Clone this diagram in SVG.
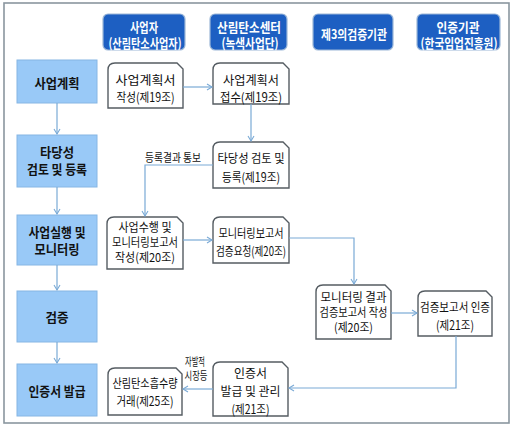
<svg xmlns="http://www.w3.org/2000/svg" width="513" height="428" viewBox="0 0 513 428">
<defs>
<marker id="arr" markerWidth="8" markerHeight="8" refX="6" refY="4" orient="auto" markerUnits="userSpaceOnUse">
<path d="M1,1 L6,4 L1,7" fill="none" stroke="#7aaad6" stroke-width="1.1"/>
</marker>
</defs>
<style>
text{font-family:"Noto Sans CJK KR","Noto Sans",sans-serif;dominant-baseline:central;text-anchor:middle;}
.hd rect{fill:#1d5fc2;stroke:#9db8d8;stroke-width:1.2;}
.hd text{fill:#ffffff;font-weight:bold;font-size:13px;}
.st rect{fill:#99c9f7;stroke:#86b6e4;stroke-width:1;}
.st text{fill:#111;font-weight:bold;font-size:13px;}
.pr path{fill:#ffffff;stroke:#555c62;stroke-width:1.4;}
.pr text{fill:#111;font-size:12.5px;}
.pr text.s{font-size:12px;}
.lb{fill:#111;font-size:11.5px;}
.cn path,.cn line{fill:none;stroke:#7aaad6;stroke-width:1.2;}
</style>
<rect x="4" y="3" width="505" height="420" fill="#ffffff" stroke="#8a969f" stroke-width="1.6"/>

<g id="header1" class="hd"><rect x="103" y="14" width="82" height="36" rx="5"/>
<text x="144" y="26" textLength="28" lengthAdjust="spacingAndGlyphs">사업자</text>
<text x="145" y="42" textLength="73" lengthAdjust="spacingAndGlyphs">(산림탄소사업자)</text></g>
<g id="header2" class="hd"><rect x="210" y="14" width="77" height="36" rx="5"/>
<text x="249" y="26" textLength="64" lengthAdjust="spacingAndGlyphs">산림탄소센터</text>
<text x="250" y="42" textLength="57" lengthAdjust="spacingAndGlyphs">(녹색사업단)</text></g>
<g id="header3" class="hd"><rect x="313" y="14" width="80" height="36" rx="5"/>
<text x="354" y="33" textLength="66" lengthAdjust="spacingAndGlyphs">제3의검증기관</text></g>
<g id="header4" class="hd"><rect x="417" y="14" width="83" height="36" rx="5"/>
<text x="458" y="26" textLength="43" lengthAdjust="spacingAndGlyphs">인증기관</text>
<text x="459" y="42" textLength="77" lengthAdjust="spacingAndGlyphs">(한국임업진흥원)</text></g>

<g id="stage1" class="st"><rect x="17" y="60" width="80" height="43"/>
<text x="57" y="82" textLength="45" lengthAdjust="spacingAndGlyphs">사업계획</text></g>
<g id="stage2" class="st"><rect x="17" y="135" width="80" height="52"/>
<text x="57" y="151" textLength="34" lengthAdjust="spacingAndGlyphs">타당성</text>
<text x="57" y="168" textLength="60" lengthAdjust="spacingAndGlyphs">검토 및 등록</text></g>
<g id="stage3" class="st"><rect x="17" y="215" width="80" height="50"/>
<text x="57" y="231" textLength="57" lengthAdjust="spacingAndGlyphs">사업실행 및</text>
<text x="57" y="248" textLength="45" lengthAdjust="spacingAndGlyphs">모니터링</text></g>
<g id="stage4" class="st"><rect x="17" y="291" width="80" height="51"/>
<text x="57" y="316" textLength="23" lengthAdjust="spacingAndGlyphs">검증</text></g>
<g id="stage5" class="st"><rect x="17" y="364" width="80" height="52"/>
<text x="57" y="390" textLength="57" lengthAdjust="spacingAndGlyphs">인증서 발급</text></g>

<g id="boxA" class="pr"><path d="M108,108 L108,70 Q108,63 115,63 L177,63 L183,69 L183,108 Z"/>
<text x="145.5" y="79" textLength="60" lengthAdjust="spacingAndGlyphs">사업계획서</text>
<text x="145.5" y="96" textLength="58" lengthAdjust="spacingAndGlyphs">작성(제19조)</text></g>
<g id="boxB" class="pr"><path d="M213,104 L213,70 Q213,63 220,63 L283,63 L289,69 L289,104 Z"/>
<text x="251" y="79" textLength="56" lengthAdjust="spacingAndGlyphs">사업계획서</text>
<text x="251" y="96" textLength="62" lengthAdjust="spacingAndGlyphs">접수(제19조)</text></g>
<g id="boxC" class="pr"><path d="M213,188 L213,149 Q213,142 220,142 L283,142 L289,148 L289,188 Z"/>
<text x="251" y="157" textLength="67" lengthAdjust="spacingAndGlyphs">타당성 검토 및</text>
<text x="251" y="176" textLength="58" lengthAdjust="spacingAndGlyphs">등록(제19조)</text></g>
<g id="boxD" class="pr"><path d="M107,269 L107,224 Q107,217 114,217 L177,217 L183,223 L183,269 Z"/>
<text class="s" x="145" y="226" textLength="53" lengthAdjust="spacingAndGlyphs">사업수행 및</text>
<text class="s" x="145" y="241" textLength="66" lengthAdjust="spacingAndGlyphs">모니터링보고서</text>
<text class="s" x="145" y="256" textLength="60" lengthAdjust="spacingAndGlyphs">작성(제20조)</text></g>
<g id="boxE" class="pr"><path d="M213,263 L213,224 Q213,217 220,217 L283,217 L289,223 L289,263 Z"/>
<text x="251" y="232" textLength="65" lengthAdjust="spacingAndGlyphs">모니터링보고서</text>
<text x="251" y="250" textLength="70" lengthAdjust="spacingAndGlyphs">검증요청(제20조)</text></g>
<g id="boxF" class="pr"><path d="M316,339 L316,292 Q316,285 323,285 L385,285 L391,291 L391,339 Z"/>
<text class="s" x="353.5" y="296" textLength="66" lengthAdjust="spacingAndGlyphs">모니터링 결과</text>
<text class="s" x="353.5" y="311" textLength="68" lengthAdjust="spacingAndGlyphs">검증보고서 작성</text>
<text class="s" x="353.5" y="326" textLength="39" lengthAdjust="spacingAndGlyphs">(제20조)</text></g>
<g id="boxG" class="pr"><path d="M418,336 L418,298 Q418,291 425,291 L486,291 L492,297 L492,336 Z"/>
<text x="455" y="306" textLength="70" lengthAdjust="spacingAndGlyphs">검증보고서 인증</text>
<text x="455" y="324" textLength="38" lengthAdjust="spacingAndGlyphs">(제21조)</text></g>
<g id="boxH" class="pr"><path d="M213,416 L213,369 Q213,362 220,362 L282,362 L288,368 L288,416 Z"/>
<text x="250.5" y="372" textLength="33" lengthAdjust="spacingAndGlyphs">인증서</text>
<text x="250.5" y="390" textLength="60" lengthAdjust="spacingAndGlyphs">발급 및 관리</text>
<text x="250.5" y="408" textLength="38" lengthAdjust="spacingAndGlyphs">(제21조)</text></g>
<g id="boxI" class="pr"><path d="M108,415 L108,375 Q108,368 115,368 L176,368 L182,374 L182,415 Z"/>
<text x="145" y="382" textLength="65" lengthAdjust="spacingAndGlyphs">산림탄소흡수량</text>
<text x="145" y="400" textLength="57" lengthAdjust="spacingAndGlyphs">거래(제25조)</text></g>

<g id="connectors" class="cn">
<line x1="57" y1="103" x2="57" y2="134" marker-end="url(#arr)"/>
<line x1="57" y1="187" x2="57" y2="214" marker-end="url(#arr)"/>
<line x1="57" y1="265" x2="57" y2="290" marker-end="url(#arr)"/>
<line x1="57" y1="342" x2="57" y2="363" marker-end="url(#arr)"/>
<line x1="183" y1="87" x2="212" y2="87" marker-end="url(#arr)"/>
<line x1="251" y1="104" x2="251" y2="141" marker-end="url(#arr)"/>
<path d="M213,165 L145,165 L145,216" marker-end="url(#arr)"/>
<line x1="183" y1="240" x2="212" y2="240" marker-end="url(#arr)"/>
<path d="M289,238 L354,238 L354,284" marker-end="url(#arr)"/>
<line x1="391" y1="313" x2="417" y2="313" marker-end="url(#arr)"/>
<path d="M456,336 L456,388 L289,388" marker-end="url(#arr)"/>
<line x1="213" y1="389" x2="183" y2="389" marker-end="url(#arr)"/>
</g>
<text class="lb" x="173" y="157" textLength="56" lengthAdjust="spacingAndGlyphs">등록결과 통보</text>
<text class="lb" x="195" y="361" textLength="20" lengthAdjust="spacingAndGlyphs">자발적</text>
<text class="lb" x="196" y="375" textLength="23" lengthAdjust="spacingAndGlyphs">시장등</text>
</svg>
